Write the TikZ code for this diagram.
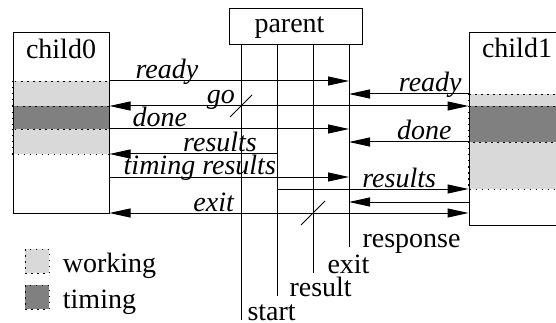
\documentclass[tikz,border=0pt]{standalone}
\usepackage{fontspec}
\setmainfont{Liberation Serif}
\usetikzlibrary{arrows.meta}
\usetikzlibrary{backgrounds}
\colorlet{workcol}{gray!30}
\colorlet{timecol}{gray}

\begin{document}
\begin{tikzpicture}[
  x=1pt, y=-1pt, line width=1pt,
  every node/.style={font=\fontsize{28}{32}\selectfont},
  proc/.style={draw, minimum width=96pt, inner sep=0pt},
  msg/.style={-{Triangle[length=21pt, width=9pt]}},
  bimsg/.style={{Triangle[length=21pt, width=9pt]}-{Triangle[length=21pt, width=9pt]}},
  lbl/.style={font=\fontsize{28}{32}\selectfont\itshape, anchor=base, yshift=2pt, inner sep=0pt},
  tag/.style={anchor=base west, inner sep=0pt},
  dots/.style={dash pattern=on 1.5pt off 4.5pt, line width=0.8pt},
  keybox/.style={draw, dots, minimum size=24pt, inner sep=0pt}
]
\useasboundingbox (0,0) rectangle (556,323);
\clip (0,0) rectangle (556,323);

% Nodes
\node[proc, minimum height=180pt] (child0) at (61,123) {};
\node[proc, minimum height=192pt] (child1) at (517,129) {};
\node[draw, minimum width=133pt, minimum height=36pt] (parent) at (295.5,27) {};
\node[anchor=base] (c0name) at ([yshift=-26pt]child0.north) {child0};
\node[anchor=base] (c1name) at ([yshift=-25pt]child1.north) {child1};
\node[anchor=base] (pname) at ([xshift=-6pt, yshift=-24pt]parent.north) {parent};

% Stripes
\begin{scope}[on background layer]
  \filldraw[dots, fill=workcol] (child0.west |- 0,81) rectangle (child0.east |- 0,106);
  \filldraw[dots, fill=timecol] (child0.west |- 0,106) rectangle (child0.east |- 0,129);
  \filldraw[dots, fill=workcol] (child0.west |- 0,129) rectangle (child0.east |- 0,154);
  \filldraw[dots, fill=workcol] (child1.west |- 0,94) rectangle (child1.east |- 0,106);
  \filldraw[dots, fill=timecol] (child1.west |- 0,106) rectangle (child1.east |- 0,142);
  \filldraw[dots, fill=workcol] (child1.west |- 0,142) rectangle (child1.east |- 0,189);
\end{scope}

% Signal lines
\coordinate (start) at (241,320);
\coordinate (result) at (277,296);
\coordinate (exit) at (313,273);
\coordinate (response) at (349,247);
\foreach \sig/\dx in {start/6, result/12, exit/14, response/13}
  \draw (parent.south -| \sig) -- (\sig) node[tag, xshift=\dx pt] (\sig-tag) {\sig};

% Messages
\draw[msg] (child0.east |- 0,81) -- (response |- 0,81) node[lbl, pos=0.24] (ready0) {ready};
\draw[msg] (child1.west |- 0,94) -- (response |- 0,94) node[lbl, pos=0.32] (ready1) {ready};
\draw[bimsg] (child0.east |- 0,106) -- (child1.west |- 0,106) node[lbl, pos=0.31] (go) {go};
\draw[msg] (child0.east |- 0,129) -- (response |- 0,129) node[lbl, pos=0.21] (done0) {done};
\draw[msg] (child1.west |- 0,142) -- (response |- 0,142) node[lbl, pos=0.37] (done1) {done};
\draw[msg] (result |- 0,154) -- (child0.east |- 0,154) node[lbl, pos=0.34] (results0) {results};
\draw[msg] (child0.east |- 0,177) -- (response |- 0,177) node[lbl, pos=0.377] (timing) {timing results};
\draw[msg] (result |- 0,189) -- (child1.west |- 0,189) node[lbl, pos=0.638] (results1) {results};
\draw[msg] (child1.west |- 0,202) -- (response |- 0,202);
\draw[bimsg] (child0.east |- 0,213) -- (child1.west |- 0,213) node[lbl, pos=0.29] (exitmsg) {exit};

% Fan-out marks
\coordinate (gofan) at (start |- 0,106);
\coordinate (exitfan) at (exit |- 0,213);
\draw ([shift={(-11,11)}]gofan) -- ++(22,-22);
\draw ([shift={(-12,12)}]exitfan) -- ++(24,-24);

% Legend
\node[keybox, fill=workcol] (workkey) at (37,261) {};
\node[tag] (worktxt) at ([xshift=13pt, yshift=1pt]workkey.south east) {working};
\node[keybox, fill=timecol] (timekey) at (37,297) {};
\node[tag] (timetxt) at ([xshift=13pt, yshift=1pt]timekey.south east) {timing};
\end{tikzpicture}
\end{document}
